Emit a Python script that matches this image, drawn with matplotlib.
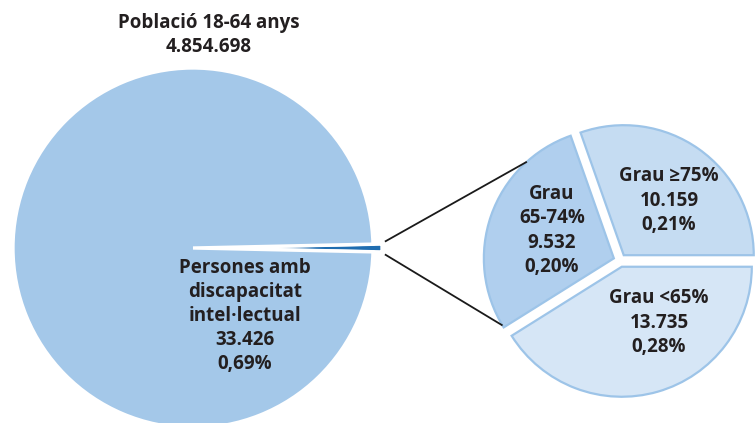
import numpy as np
import matplotlib.pyplot as plt

# dades
total_pob = 4854698
n_di = 33426
graus = ['Grau ≥75%', 'Grau\n65-74%', 'Grau <65%']
n_graus = [10159, 9532, 13735]
pct_graus = ['0,21%', '0,20%', '0,28%']

plt.rcParams['font.family'] = ['Open Sans', 'DejaVu Sans']
txt = dict(fontsize=13.5, fontweight='bold', color='#231f20', ha='center', va='center',
           linespacing=1.28)

def fmt(n):
    return f'{n:,}'.replace(',', '.')

fig = plt.figure(figsize=(7.56, 4.23), dpi=100)
ax = fig.add_axes([0, 0, 1, 1])

# pastis gran (coordenades en pixels, y cap amunt)
c1 = (193, 175)
r1 = 180
frac_di = n_di / total_pob
w_big, _ = ax.pie([n_di, total_pob - n_di], startangle=-frac_di * 360 / 2,
                  colors=['#1f6db0', '#a4c8e9'], explode=[9, 0],
                  center=c1, radius=r1,
                  wedgeprops=dict(edgecolor='white', linewidth=2.4))

# pastis petit
c2 = (620, 162.5)
r2 = 130
w_small, _ = ax.pie(n_graus, startangle=0, colors=['#c5dcf2', '#b0cfee', '#d6e6f6'],
                    explode=[6.5, 6.5, 6.5], center=c2, radius=r2,
                    wedgeprops=dict(edgecolor='#9dc4e8', linewidth=1.6))

# linies de connexio
wb = w_big[0]
ws = w_small[1]
for a_big, a_small in [(2.0, 132.0), (-2.0, ws.theta2 - 1.0)]:
    x0 = wb.center[0] + (r1 + 3) * np.cos(np.radians(a_big))
    y0 = wb.center[1] + (r1 + 3) * np.sin(np.radians(a_big))
    x1 = ws.center[0] + r2 * np.cos(np.radians(a_small))
    y1 = ws.center[1] + r2 * np.sin(np.radians(a_small))
    ax.plot([x0, x1], [y0, y1], color='#1a1a1a', lw=1.3, solid_capstyle='butt')

# textos
ax.text(c1[0] + 16, c1[1] + 213, 'Població 18-64 anys\n' + fmt(total_pob), **txt)
ax.text(c1[0] + 52, c1[1] - 68,
        'Persones amb\ndiscapacitat\nintel·lectual\n' + fmt(n_di) + '\n0,69%', **txt)

offs = [(49, 60), (-68, 30), (39, -62)]
for w, g, n, p, (dx, dy) in zip(w_small, graus, n_graus, pct_graus, offs):
    ax.text(c2[0] + dx, c2[1] + dy, g + '\n' + fmt(n) + '\n' + p, **txt)

ax.set_xlim(0, 756)
ax.set_ylim(0, 423)
ax.set_aspect('equal')
ax.axis('off')

fig.savefig('out.png', dpi=100)
